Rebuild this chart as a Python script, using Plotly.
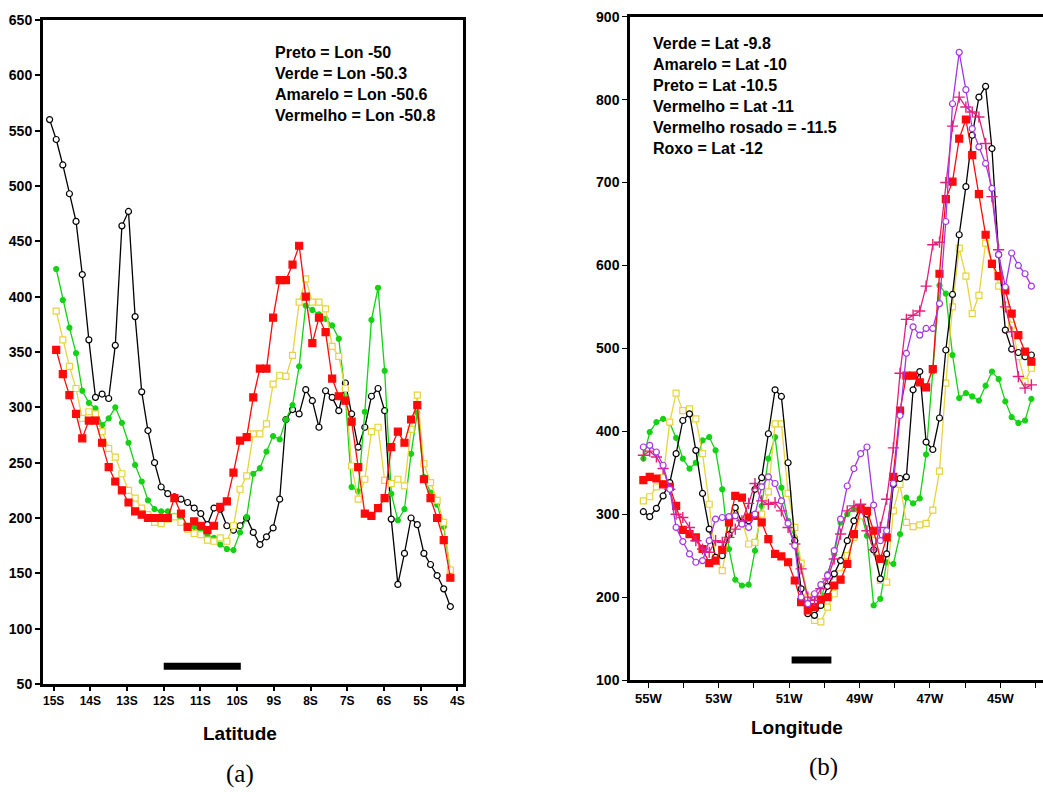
import plotly.graph_objects as go

# ---------------- Panel (a): values along latitude ----------------
lat = [-15.11, -14.93, -14.75, -14.57, -14.39, -14.22, -14.04, -13.86, -13.68, -13.50,
       -13.32, -13.14, -12.96, -12.78, -12.60, -12.43, -12.25, -12.07, -11.89, -11.71,
       -11.53, -11.35, -11.17, -10.99, -10.81, -10.63, -10.46, -10.28, -10.10, -9.92,
       -9.74, -9.56, -9.38, -9.20, -9.02, -8.84, -8.67, -8.49, -8.31, -8.13,
       -7.95, -7.77, -7.59, -7.41, -7.23, -7.05, -6.88, -6.70, -6.52, -6.34,
       -6.16, -5.98, -5.80, -5.62, -5.44, -5.26, -5.09, -4.91, -4.73, -4.55,
       -4.37, -4.19]

preto_a = [560, 542, 519, 493, 468, 420, 361, 309, 312, 308,
           356, 464, 477, 382, 314, 279, 250, 228, 222, 219,
           217, 214, 209, 204, 194, 209, 208, 193, 189, 193,
           200, 187, 176, 183, 191, 217, 289, 298, 294, 316,
           306, 282, 315, 309, 297, 322, 294, 264, 282, 310,
           317, 297, 199, 140, 168, 200, 194, 168, 158, 148,
           136, 120]
verde_a = [None, 425, 397, 372, 349, 315, 304, 299, 284, 290, 300,
           286, 268, 248, 233, 216, 208, 206, 206, 202, 199,
           193, 192, 188, 184, 182, 176, 172, 171, 187, 201,
           240, 245, 260, 274, 271, 289, 302, 337, 392, 388,
           384, 380, 374, 362, 310, 228, 224, 296, 379, 408,
           333, 222, 198, 208, 258, 295, 237, 223, 212, 192,
           152]
amarelo_a = [None, 387, 361, 337, 317, 290, 296, 294, 278, 263, 255,
             240, 225, 218, 209, 203, 196, 195, 199, 201, 196,
             190, 186, 185, 180, 179, 182, 179, 193, 226, 238,
             276, 276, 285, 321, 329, 328, 347, 395, 416, 395,
             395, 389, 355, 346, 317, 247, 217, 235, 278, 282,
             234, 231, 235, 229, 280, 311, 249, 232, 216, 196,
             153]
vermelho_a = [None, 352, 330, 311, 294, 272, 288, 288, 268, 246, 233,
              225, 214, 206, 203, 200, 200, 200, 200, 218, 204,
              192, 197, 193, 189, 193, 210, 215, 241, 270, 273,
              309, 335, 335, 381, 415, 415, 429, 446, 400, 358,
              381, 368, 326, 310, 306, 287, 246, 204, 202, 209,
              218, 264, 278, 268, 289, 302, 235, 218, 200, 180,
              146]

bar_a_lat = [-12.0, -9.9]
bar_a_val = [66, 66]

lat_ticks = [-15, -14, -13, -12, -11, -10, -9, -8, -7, -6, -5, -4]
lat_labels = ["15S", "14S", "13S", "12S", "11S", "10S", "9S", "8S", "7S", "6S", "5S", "4S"]
ya_ticks = [50, 100, 150, 200, 250, 300, 350, 400, 450, 500, 550, 600, 650]

legend_a = ["Preto = Lon -50", "Verde = Lon -50.3", "Amarelo = Lon -50.6", "Vermelho = Lon -50.8"]

# ---------------- Panel (b): values along longitude ----------------
lon = [-55.14, -54.96, -54.77, -54.58, -54.39, -54.21, -54.02, -53.83, -53.65, -53.46,
       -53.27, -53.09, -52.90, -52.71, -52.53, -52.34, -52.15, -51.97, -51.78, -51.59,
       -51.40, -51.22, -51.03, -50.84, -50.66, -50.47, -50.28, -50.10, -49.91, -49.72,
       -49.54, -49.35, -49.16, -48.97, -48.79, -48.60, -48.41, -48.23, -48.04, -47.85,
       -47.67, -47.48, -47.29, -47.11, -46.92, -46.73, -46.55, -46.36, -46.17, -45.98,
       -45.80, -45.61, -45.42, -45.24, -45.05, -44.86, -44.68, -44.49, -44.30, -44.12]

verde_b = [367, 399, 411, 415, 410, 392, 367, 355, 362, 389,
           393, 377, 330, 258, 221, 214, 215, 256, 310, 367,
           393, 332, 292, 272, 238, 195, 176, 196, 228, 252,
           290, 300, 306, 304, 274, 190, 198, 242, 240, 276,
           320, 313, 319, 372, 472, 576, 566, 492, 440, 446,
           442, 437, 455, 472, 463, 436, 417, 410, 413, 439]
amarelo_b = [316, 321, 333, 344, 411, 446, 425, 427, 415, 373,
             312, 248, 232, 276, 304, 292, 264, 266, 300, 327,
             409, 409, 325, 284, 241, 200, 172, 170, 188, 204,
             228, 250, 272, 298, 300, 268, 220, 218, 304, 336,
             290, 285, 287, 289, 305, 352, 458, 550, 621, 587,
             542, 564, 627, 603, 575, 552, 528, 490, 460, 476]
preto_b = [303, 297, 307, 322, 338, 373, 413, 421, 377, 325,
           282, 248, 250, 275, 308, 290, 292, 330, 344, 397,
           450, 442, 362, 268, 210, 180, 178, 190, 213, 228,
           244, 268, 292, 308, 300, 257, 222, 252, 336, 343,
           345, 450, 472, 387, 378, 416, 498, 565, 637, 695,
           757, 803, 816, 741, 613, 522, 499, 495, 490, 492]
vermelho_b = [341, 345, 343, 336, 333, 310, 281, 276, 272, 258,
              241, 244, 257, 290, 322, 320, 296, 298, 290, 270,
              252, 249, 242, 220, 194, 184, 188, 197, 200, 214,
              221, 240, 276, 306, 304, 280, 246, 272, 345, 425,
              467, 467, 459, 453, 475, 590, 680, 701, 753, 776,
              733, 686, 637, 602, 587, 570, 542, 516, 496, 484]
rosado_b = [371, 376, 369, 355, 330, 300, 296, 284, 268, 258,
            254, 268, 266, 272, 282, 292, 313, 337, 316, 312,
            314, 304, 284, 264, 234, 200, 196, 210, 222, 246,
            276, 304, 310, 312, 280, 257, 284, 318, 380, 470,
            535, 540, 545, 575, 625, 628, 700, 768, 803, 791,
            785, 779, 747, 683, 619, 550, 520, 466, 452, 456]
roxo_b = [381, 383, 375, 359, 330, 284, 267, 252, 242, 244,
          268, 294, 296, 297, 298, 288, 284, 300, 333, 345,
          337, 316, 289, 262, 200, 192, 204, 215, 226, 256,
          294, 334, 355, 373, 381, 311, 268, 280, 337, 419,
          494, 526, 516, 524, 524, 554, 653, 795, 857, 812,
          765, 743, 723, 693, 613, 574, 615, 600, 590, 575]

bar_b_lon = [-50.93, -49.8]
bar_b_val = [124, 124]

lon_ticks = [-55, -54, -53, -52, -51, -50, -49, -48, -47, -46, -45, -44]
lon_labels = ["55W", "", "53W", "", "51W", "", "49W", "", "47W", "", "45W", ""]
yb_ticks = [100, 200, 300, 400, 500, 600, 700, 800, 900]

legend_b = ["Verde = Lat -9.8", "Amarelo = Lat -10", "Preto = Lat -10.5",
            "Vermelho = Lat -11", "Vermelho rosado = -11.5", "Roxo = Lat -12"]

# ---------------- styles ----------------
BLACK = "#000000"
GREEN = "#14D214"
YELLOW = "#E8D43C"
RED = "#FF0A0A"
PINK = "#E2207C"
PURPLE = "#A535E6"
FONT = "Liberation Sans, Arial, sans-serif"

W, H = 1043, 792


def px(x):
    return x / W


def py(y):
    return 1 - y / H


fig = go.Figure()


def add(x, y, color, symbol, fill, size, xa, ya, lw=1.3, mlw=1.2):
    fig.add_trace(go.Scatter(
        x=x, y=y, mode="lines+markers", xaxis=xa, yaxis=ya,
        line=dict(color=color, width=lw),
        marker=dict(symbol=symbol, size=size, color=fill,
                    line=dict(color=color, width=mlw)),
        connectgaps=False, showlegend=False, hoverinfo="skip"))


# panel a
add(lat, preto_a, BLACK, "circle", "white", 6, "x", "y")
add(lat, verde_a, GREEN, "circle", GREEN, 5, "x", "y")
add(lat, amarelo_a, YELLOW, "square", "white", 6, "x", "y")
add(lat, vermelho_a, RED, "square", RED, 7, "x", "y")
fig.add_trace(go.Scatter(x=bar_a_lat, y=bar_a_val, mode="lines", xaxis="x", yaxis="y",
                         line=dict(color="black", width=7), showlegend=False, hoverinfo="skip"))

# panel b
add(lon, verde_b, GREEN, "circle", GREEN, 5, "x2", "y2")
add(lon, amarelo_b, YELLOW, "square", "white", 6, "x2", "y2")
add(lon, preto_b, BLACK, "circle", "white", 6, "x2", "y2")
add(lon, vermelho_b, RED, "square", RED, 7, "x2", "y2")
add(lon, rosado_b, PINK, "cross-thin-open", PINK, 8, "x2", "y2", mlw=1.4)
add(lon, roxo_b, PURPLE, "circle", "white", 6, "x2", "y2")
fig.add_trace(go.Scatter(x=bar_b_lon, y=bar_b_val, mode="lines", xaxis="x2", yaxis="y2",
                         line=dict(color="black", width=7), showlegend=False, hoverinfo="skip"))


def tf(size):
    return dict(family=FONT, size=size, color="black")


axis_common = dict(showgrid=False, zeroline=False, showline=True, linecolor="black",
                   ticks="outside", tickcolor="black", automargin=False)

fig.update_layout(
    template="none",
    width=W, height=H, autosize=False,
    margin=dict(l=0, r=0, t=0, b=0, pad=0),
    paper_bgcolor="white", plot_bgcolor="white",
    showlegend=False,
    xaxis=dict(axis_common, domain=[px(43), px(463)], range=[-15.29, -3.845],
               linewidth=3, mirror=True, ticklen=4, tickwidth=1.5, tickfont=tf(12),
               tickvals=lat_ticks, ticktext=["<b>%s</b>" % t for t in lat_labels],
               anchor="y"),
    yaxis=dict(axis_common, domain=[py(684), py(20)], range=[50, 650],
               linewidth=3, mirror=True, ticklen=5, tickwidth=1.5, tickfont=tf(14),
               tickvals=ya_ticks, ticktext=["<b>%d</b>" % t for t in ya_ticks],
               anchor="x"),
    xaxis2=dict(axis_common, domain=[px(630), 1.0], range=[-55.52, -43.79],
                linewidth=2.5, mirror=True, ticklen=5, tickwidth=1.2, tickfont=tf(13),
                tickvals=lon_ticks, ticktext=["<b>%s</b>" % t if t else "" for t in lon_labels],
                anchor="y2"),
    yaxis2=dict(axis_common, domain=[py(680), py(16.7)], range=[100, 900],
                linewidth=2.5, mirror=False, ticklen=5, tickwidth=1.2, tickfont=tf(14),
                tickvals=yb_ticks, ticktext=["<b>%d</b>" % t for t in yb_ticks],
                anchor="x2"),
)

annotations = []
for k, txt in enumerate(legend_a):
    annotations.append(dict(text="<b>%s</b>" % txt, xref="paper", yref="paper",
                            x=px(273), y=py(52.7 + 20.8 * k), xanchor="left", yanchor="middle",
                            showarrow=False, font=tf(16)))
for k, txt in enumerate(legend_b):
    annotations.append(dict(text="<b>%s</b>" % txt, xref="paper", yref="paper",
                            x=px(651), y=py(43.3 + 21.0 * k), xanchor="left", yanchor="middle",
                            showarrow=False, font=tf(16)))
annotations += [
    dict(text="<b>Latitude</b>", xref="paper", yref="paper", x=px(240), y=py(733),
         xanchor="center", yanchor="middle", showarrow=False, font=tf(19)),
    dict(text="<b>Longitude</b>", xref="paper", yref="paper", x=px(797), y=py(727),
         xanchor="center", yanchor="middle", showarrow=False, font=tf(19)),
    dict(text="(a)", xref="paper", yref="paper", x=px(240), y=py(774),
         xanchor="center", yanchor="middle", showarrow=False,
         font=dict(family="Liberation Serif, Times New Roman, serif", size=25, color="black")),
    dict(text="(b)", xref="paper", yref="paper", x=px(823), y=py(767),
         xanchor="center", yanchor="middle", showarrow=False,
         font=dict(family="Liberation Serif, Times New Roman, serif", size=25, color="black")),
]
fig.update_layout(annotations=annotations)

fig.write_html(
    "out.html",
    config={"displayModeBar": False},
    post_script="document.body.style.margin='0';document.body.style.overflow='hidden';",
)
